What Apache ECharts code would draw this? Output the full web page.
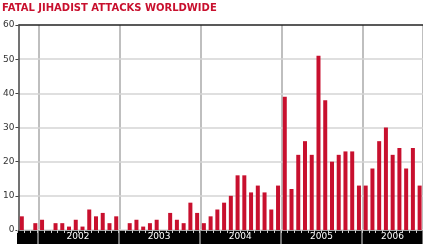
<!DOCTYPE html>
<html><head><meta charset="utf-8">
<script src="https://cdn.jsdelivr.net/npm/echarts@6/dist/echarts.min.js"></script>
<style>html,body{margin:0;padding:0;background:#fff}#c{width:423px;height:244px}</style>
</head><body><div id="c"></div>
<script>
const title = 'FATAL JIHADIST ATTACKS WORLDWIDE';
const months = [
 '2001-10','2001-11','2001-12',
 '2002-01','2002-02','2002-03','2002-04','2002-05','2002-06','2002-07','2002-08','2002-09','2002-10','2002-11','2002-12',
 '2003-01','2003-02','2003-03','2003-04','2003-05','2003-06','2003-07','2003-08','2003-09','2003-10','2003-11','2003-12',
 '2004-01','2004-02','2004-03','2004-04','2004-05','2004-06','2004-07','2004-08','2004-09','2004-10','2004-11','2004-12',
 '2005-01','2005-02','2005-03','2005-04','2005-05','2005-06','2005-07','2005-08','2005-09','2005-10','2005-11','2005-12',
 '2006-01','2006-02','2006-03','2006-04','2006-05','2006-06','2006-07','2006-08','2006-09'
];
const attacks = [
 4,0,2,
 3,0,2,2,1,3,1,6,4,5,2,4,
 0,2,3,1,2,3,0,5,3,2,8,5,
 2,4,6,8,10,16,16,11,13,11,6,13,
 39,12,22,26,22,51,38,20,22,23,23,13,
 13,18,26,30,22,24,18,24,13
];
const yearLabels = ['2002','2003','2004','2005','2006'];
const yTicks = [0,10,20,30,40,50,60];

const yearCentres = yearLabels.map(y => {
  const idx = months.map((m,i)=>m.startsWith(y)?i:-1).filter(i=>i>=0);
  return (idx[0] + idx[idx.length-1] + 1) / 2;
});
const isYearStart = (i) => !!months[i] && months[i].endsWith('-01');

const chart = echarts.init(document.getElementById('c'), null, {renderer:'canvas'});
const red = '#c8102e';
chart.setOption({
  animation: false,
  title: {
    text: title, left: 2, top: 3, padding: 0,
    textStyle: {color: red, fontSize: 10, fontWeight: 'bold', fontFamily: 'DejaVu Sans'}
  },
  grid: [
    {left: 17, right: 0, top: 25, bottom: 14, containLabel: false},
    {left: 17, right: 0, top: 230, bottom: 0, containLabel: false}
  ],
  xAxis: [
    { // main plot months
      type: 'category', data: months, gridIndex: 0, position: 'bottom',
      axisLine: {show: false}, axisTick: {show: false}, axisLabel: {show: false},
      splitLine: {show: true, interval: (i) => isYearStart(i), lineStyle: {color: '#aaa', width: 1.5}}
    },
    { // band: black fill + year labels
      type: 'value', min: 0, max: months.length, interval: 1.5, gridIndex: 1, position: 'bottom', z: 0,
      axisLine: {show: false}, axisTick: {show: false}, splitLine: {show: false},
      splitArea: {show: true, areaStyle: {color: ['#000'], opacity: 1}},
      axisLabel: {
        show: true, inside: true, margin: 7, verticalAlign: 'middle', color: '#fff', fontSize: 9,
        fontFamily: 'DejaVu Sans', showMinLabel: false, showMaxLabel: false,
        formatter: v => { const k = yearCentres.findIndex(c => Math.abs(c - v) < 0.01); return k >= 0 ? yearLabels[k] : ''; }
      }
    },
    { // band: month ticks + year boundaries
      type: 'category', data: months, min: 0, max: months.length - 1, gridIndex: 1, position: 'top', z: 5,
      axisLine: {show: false},
      axisTick: {show: true, inside: true, length: 3, interval: 0, lineStyle: {color: '#ccc', width: 1}},
      axisLabel: {show: false},
      splitLine: {show: true, interval: (i) => isYearStart(i), lineStyle: {color: '#999', width: 1.5}}
    }
  ],
  yAxis: [
    {
      type: 'value', gridIndex: 0, min: yTicks[0], max: yTicks[yTicks.length-1], interval: 10, z: 1,
      axisLine: {show: true, lineStyle: {color: '#444', width: 1.5}},
      axisTick: {show: true, length: 3, lineStyle: {color: '#444'}},
      axisLabel: {color: '#333', fontSize: 9, fontFamily: 'DejaVu Sans', margin: 4},
      splitLine: {show: true, lineStyle: {color: ['#ddd','#d4d4d4','#d4d4d4','#d4d4d4','#d4d4d4','#d4d4d4','#222'], width: 1.5}}
    },
    {type: 'value', gridIndex: 1, show: false, min: 0, max: 1}
  ],
  series: [{
    type: 'bar', xAxisIndex: 0, yAxisIndex: 0, data: attacks, barWidth: 4,
    itemStyle: {color: red}, z: 3
  }]
});
</script>
</body></html>
